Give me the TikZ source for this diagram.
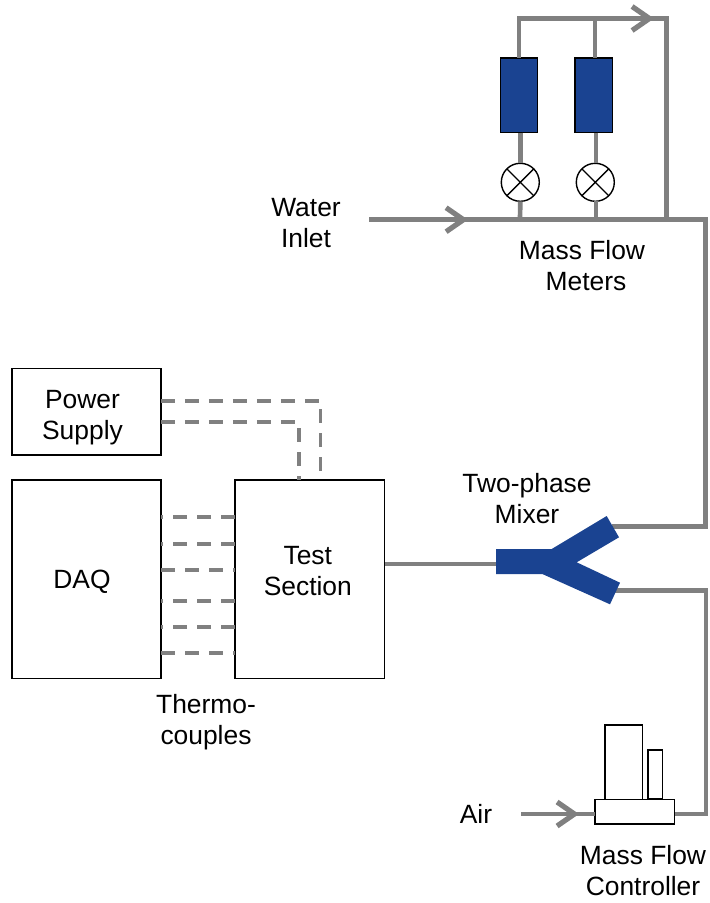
\documentclass[tikz,border=0pt]{standalone}
\usepackage{fontspec}
\setmainfont{Liberation Sans}
\usetikzlibrary{arrows.meta}
\definecolor{pipegrey}{HTML}{808080}
\definecolor{unitblue}{HTML}{1A4391}
\tikzset{
  x=0.75pt,y=-0.75pt,
  pipe/.style={draw=pipegrey,line width=3.7pt,line cap=butt,line join=miter},
  thinpipe/.style={draw=pipegrey,line width=3.5pt},
  flow/.style={pipe,-{Straight Barb[length=13pt,width=18pt,line width=3.9pt]}},
  wire/.style={draw=pipegrey,line width=2.9pt,dash pattern=on 10.5pt off 7.5pt},
  box/.style={draw=black,line width=1.05pt,fill=white,inner sep=0pt,outer sep=0pt},
  meter/.style={draw=black,line width=1.05pt,fill=unitblue,inner sep=0pt,outer sep=0pt,minimum width=28pt,minimum height=56pt},
  valve/.style={draw=black,line width=1.05pt,fill=white,circle,inner sep=0pt,outer sep=0pt,minimum size=28.5pt},
  label/.style={inner sep=0pt,align=center,font=\fontsize{19.8pt}{23.25pt}\selectfont},
}
\begin{document}
\begin{tikzpicture}
\useasboundingbox (0,0) rectangle (710,903);
% junction points
\coordinate (inlet) at (369,219.7);
\coordinate (tipA) at (468,219.7);
\coordinate (jA) at (520,219.7);
\coordinate (jB) at (596,219.7);
\coordinate (jC) at (666.7,219.7);
\coordinate (corner1) at (705.5,219.7);
\coordinate (corner2) at (705.5,526.7);
\coordinate (mixA) at (612,526.7);
\coordinate (topL) at (519,18.5);
\coordinate (topM) at (595,18.5);
\coordinate (tipB) at (654,18.5);
\coordinate (topR) at (666.7,18.5);
\coordinate (mixB) at (613,590.5);
\coordinate (corner3) at (706,590.5);
\coordinate (corner4) at (706,814);
\coordinate (air) at (521,814);
\coordinate (tipC) at (579,814);
\coordinate (mixC) at (497,564);
% pipes
\draw[pipe] (tipA) ++(-6,0) -- (corner1) -- (corner2) -- (mixA);
\draw[flow] (inlet) -- (tipA);
\draw[pipe] (jC) -- (topR) -- ([xshift=-8]tipB);
\node[meter] (m1) at (519,95.3) {};
\node[meter] (m2) at (593.8,95.3) {};
\node[valve] (v1) at (520.3,182.3) {};
\node[valve] (v2) at (595.3,182.3) {};
\draw[flow] (topL |- m1.north) -- (topL) -- (tipB);
\draw[thinpipe] (topM) -- (topM |- m2.north);
\draw[thinpipe] (m1.south -| v1) -- (v1.north);
\draw[thinpipe] (m2.south -| jB) -- (jB |- v2.north);
\draw[thinpipe] (v1.south) -- (jA);
\draw[thinpipe] (jB |- v2.south) -- (jB);
\foreach \v in {v1,v2}{
  \draw[black,line width=1.05pt] (\v.north west) -- (\v.south east) (\v.north east) -- (\v.south west);
}
% mixer lower leg and controller
\draw[pipe] (mixB) -- (corner3) -- (corner4) -- (674,814);
\node[box,minimum width=28pt,minimum height=55.8pt] (ctlA) at (623.6,762) {};
\node[box,minimum width=10.7pt,minimum height=37pt] (ctlB) at (655.2,774.5) {};
\node[box,minimum width=59.5pt,minimum height=18.5pt] (ctl) at (634.6,811.7) {};
\draw[pipe] (tipC) ++(-6,0) -- (ctl.west |- air);
\draw[flow] (air) -- (tipC);
% mixer
\coordinate (testE) at (384.5,564);
\draw[pipe] (testE) -- (mixC);
\fill[unitblue] (496,549) -- (551.7,549) -- (606.7,516) -- (619,537.3) -- (576.7,562.3) -- (620,582.7) -- (610,604.3) -- (542.3,574) -- (496,574) -- cycle;
% boxes
\node[box,minimum width=111.7pt,minimum height=65pt] (power) at (86.5,411.7) {};
\node[box,minimum width=111.7pt,minimum height=149pt] (daq) at (86.5,579.2) {};
\node[box,minimum width=112pt,minimum height=149pt] (test) at (309.7,579.2) {};
% wires
\coordinate (pA) at (320.5,401);
\coordinate (pB) at (299,422.3);
\draw[wire] (power.east |- pA) -- (pA) -- (pA |- test.north);
\draw[wire] (power.east |- pB) -- (pB) -- (pB |- test.north);
\foreach \yy in {517.3,543.7,600.7,627}{
  \coordinate (wa) at (235,\yy);
  \coordinate (wb) at (161,\yy);
  \draw[wire] (wa) -- (wb);
}
\foreach \yy in {570,653.3}{
  \coordinate (wa) at (161,\yy);
  \coordinate (wb) at (235,\yy);
  \draw[wire] (wa) -- (wb);
}
% labels
\node[label] (t1) at (82.5,417.7) {Power\\Supply};
\node[label] (t2) at (82,582.2) {DAQ};
\node[label] (t3) at (307.8,571.2) {Test\\Section};
\node[label] (l1) at (306,223) {Water\\Inlet};
\node[label] (l2) at (582,266) {Mass Flow\\\hspace*{6pt}Meters};
\node[label] (l3) at (527,498.5) {Two-phase\\Mixer};
\node[label] (l4) at (206,722.5) {Thermo-\\couples};
\node[label] (l5) at (476,814) {Air};
\node[label] (l6) at (643,870.5) {Mass Flow\\Controller};
\end{tikzpicture}
\end{document}
